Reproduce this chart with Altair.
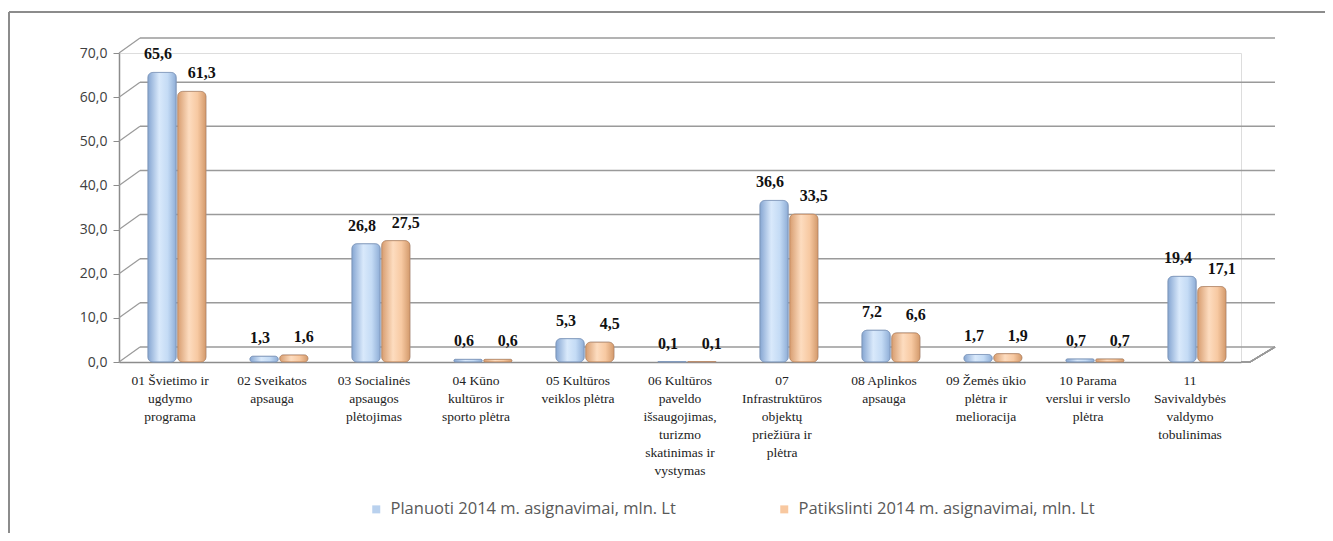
import altair as alt
import pandas as pd

categories = [
    "01 Švietimo ir\nugdymo\nprograma",
    "02 Sveikatos\napsauga",
    "03 Socialinės\napsaugos\nplėtojimas",
    "04 Kūno\nkultūros ir\nsporto plėtra",
    "05 Kultūros\nveiklos plėtra",
    "06 Kultūros\npaveldo\nišsaugojimas,\nturizmo\nskatinimas ir\nvystymas",
    "07\nInfrastruktūros\nobjektų\npriežiūra ir\nplėtra",
    "08 Aplinkos\napsauga",
    "09 Žemės ūkio\nplėtra ir\nmelioracija",
    "10 Parama\nverslui ir verslo\nplėtra",
    "11\nSavivaldybės\nvaldymo\ntobulinimas",
]
series = ["Planuoti 2014 m. asignavimai, mln. Lt", "Patikslinti 2014 m. asignavimai, mln. Lt"]
planuoti = [65.6, 1.3, 26.8, 0.6, 5.3, 0.1, 36.6, 7.2, 1.7, 0.7, 19.4]
patikslinti = [61.3, 1.6, 27.5, 0.6, 4.5, 0.1, 33.5, 6.6, 1.9, 0.7, 17.1]
y_ticks = [0, 10, 20, 30, 40, 50, 60, 70]

rows = []
for c, a, b in zip(categories, planuoti, patikslinti):
    rows.append({"cat": c, "series": series[0], "value": a})
    rows.append({"cat": c, "series": series[1], "value": b})
df = pd.DataFrame(rows)
cat_df = pd.DataFrame({"cat": categories})
grid_df = pd.DataFrame({"v": y_ticks})

W, H = 1122, 309
BLUE, ORANGE = "#b9d1ee", "#f8c8a0"
SERIF = "Liberation Serif"
SANS = "Open Sans"

x_enc = alt.X("cat:N", sort=categories, title=None,
              scale=alt.Scale(paddingInner=0.43, paddingOuter=0.215),
              axis=alt.Axis(labels=False, ticks=False,
                            domainColor="#8c8c8c", domainWidth=1.5))
xo_enc = alt.XOffset("series:N", sort=series,
                     scale=alt.Scale(domain=series, range=[7, 65], paddingInner=0.05))
y_enc = alt.Y("value:Q", title=None,
              scale=alt.Scale(domain=[0, 70], nice=False),
              axis=alt.Axis(values=y_ticks,
                            labelExpr="replace(format(datum.value, '.1f'), '.', ',')",
                            labelFont=SANS, labelFontSize=14, labelColor="#404040",
                            labelPadding=6, tickSize=6, tickColor="#8c8c8c",
                            domainColor="#8c8c8c", domainWidth=1.5, grid=False))

base = alt.Chart(df).encode(x=x_enc, xOffset=xo_enc, y=y_enc)

# frame around chart area
frame_top = alt.Chart(grid_df).mark_rule(color="#8c8c8c", strokeWidth=1.5).encode(
    x=alt.value(-110), x2=alt.value(W + 84), y=alt.value(-41))
frame_left = alt.Chart(grid_df).mark_rule(color="#8c8c8c", strokeWidth=1.5).encode(
    x=alt.value(-110), y=alt.value(-41), y2=alt.value(H + 171))

# back-wall gridlines
grid = alt.Chart(grid_df).mark_rule(color="#9a9a9a", strokeWidth=1.5, yOffset=-15).encode(
    x=alt.value(21), x2=alt.value(W + 34), y=alt.Y("v:Q"))
slants = alt.Chart(grid_df).mark_rule(color="#9a9a9a", strokeWidth=1.2, y2Offset=-15).encode(
    x=alt.value(0), x2=alt.value(21), y=alt.Y("v:Q"), y2=alt.Y2("v"))
floor_right = alt.Chart(grid_df).mark_rule(color="#9a9a9a", strokeWidth=1.2).encode(
    x=alt.value(W + 9), x2=alt.value(W + 34), y=alt.value(H), y2=alt.value(H - 15))
floor_front = alt.Chart(grid_df).mark_rule(color="#9a9a9a", strokeWidth=1.2).encode(
    x=alt.value(W), x2=alt.value(W + 9), y=alt.value(H))

# category labels (serif, multi-line)
cat_labels = alt.Chart(cat_df).mark_text(
    baseline="top", align="center", lineBreak="\n", lineHeight=18,
    font=SERIF, fontSize=13.5, color="#222222"
).encode(x=alt.X("cat:N", sort=categories), y=alt.value(H + 12), text="cat:N")

bars = base.mark_bar(cornerRadius=5, stroke="#8aa0bd", strokeWidth=0.6).encode(
    color=alt.Color("series:N", sort=series,
                    scale=alt.Scale(domain=series, range=[BLUE, ORANGE]),
                    legend=alt.Legend(orient="none", legendX=249, legendY=448,
                                      direction="horizontal", title=None,
                                      symbolType="square", symbolSize=64,
                                      symbolStrokeWidth=0, labelFont=SANS,
                                      labelFontSize=16.5, labelColor="#595959",
                                      columnPadding=100, labelLimit=400, labelOffset=6)))

grad_blue = alt.Gradient(gradient="linear", x1=0, x2=1, y1=0, y2=0, stops=[
    alt.GradientStop(color="#86a6d2", offset=0),
    alt.GradientStop(color="#d9e9fb", offset=0.4),
    alt.GradientStop(color="#c4dbf5", offset=0.7),
    alt.GradientStop(color="#8eadd6", offset=1)])
grad_orange = alt.Gradient(gradient="linear", x1=0, x2=1, y1=0, y2=0, stops=[
    alt.GradientStop(color="#d79d70", offset=0),
    alt.GradientStop(color="#fddcbf", offset=0.4),
    alt.GradientStop(color="#f7c9a2", offset=0.7),
    alt.GradientStop(color="#d39a6c", offset=1)])

bars_b = base.transform_filter(alt.datum.series == series[0]).mark_bar(
    cornerRadius=5, fill=grad_blue, stroke="#7f98bb", strokeWidth=0.7)
bars_o = base.transform_filter(alt.datum.series == series[1]).mark_bar(
    cornerRadius=5, fill=grad_orange, stroke="#c08a60", strokeWidth=0.7)

lbl_expr = "replace(format(datum.value, '.1f'), '.', ',')"
labels_b = base.transform_filter(alt.datum.series == series[0]).transform_calculate(
    lbl=lbl_expr
).mark_text(baseline="bottom", dy=-10, dx=-4, font=SERIF, fontSize=16,
            fontWeight="bold", color="#111111").encode(text="lbl:N")
labels_o = base.transform_filter(alt.datum.series == series[1]).transform_calculate(
    lbl=lbl_expr
).mark_text(baseline="bottom", dy=-10, dx=10, font=SERIF, fontSize=16,
            fontWeight="bold", color="#111111").encode(text="lbl:N")

chart = alt.layer(frame_top, frame_left, grid, slants, floor_right, floor_front,
                  bars, bars_b, bars_o, labels_b, labels_o, cat_labels).properties(
    width=W, height=H,
    autosize=alt.AutoSizeParams(type="none"),
    padding={"left": 111, "top": 45, "right": 84, "bottom": 171},
).configure_view(strokeWidth=0, stroke="transparent").configure(background="white")

chart.save("out.html", embed_options={"renderer": "svg", "actions": False})
